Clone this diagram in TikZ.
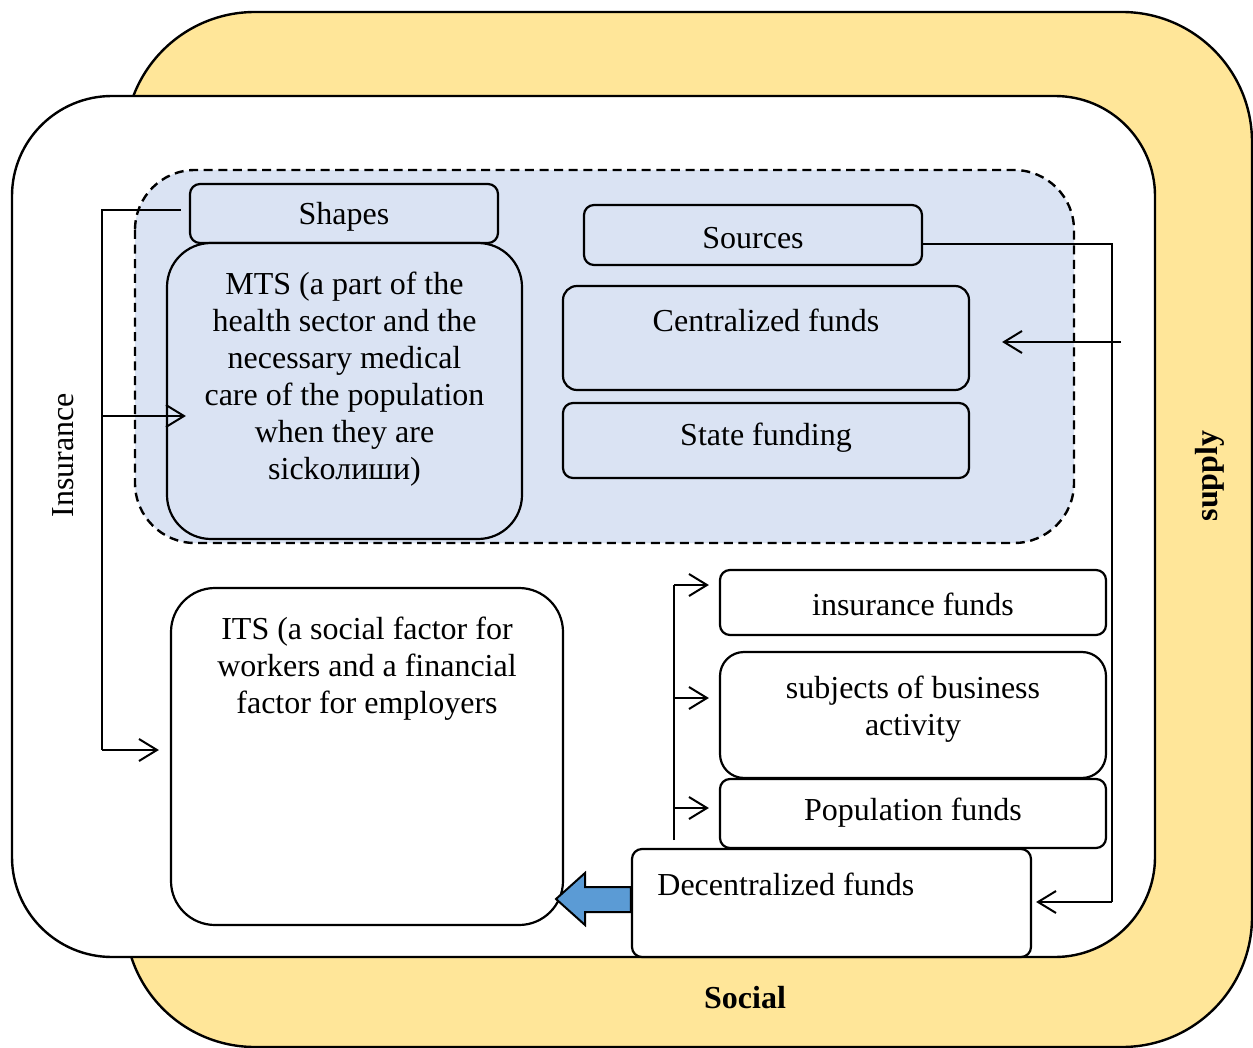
\documentclass[tikz,border=0pt]{standalone}
\usepackage{fontspec}
\setmainfont{Liberation Serif}
\usetikzlibrary{arrows.meta,calc}
\definecolor{yel}{HTML}{FFE699}
\definecolor{lblue}{HTML}{DAE3F3}
\definecolor{barrow}{HTML}{5B9BD5}
\begin{document}
\begin{tikzpicture}[x=0.5pt,y=-0.5pt,
  font=\fontsize{16}{18.5}\selectfont,
  box/.style={draw, line width=1.1pt, rounded corners=5pt, inner sep=0pt},
  txt/.style={align=center, inner sep=0pt},
  thinline/.style={line width=0.6pt},
  arr/.style={line width=1pt, -{Straight Barb[length=9pt,width=11pt]}}]
\clip (0,0) rectangle (1253,1048);
\useasboundingbox (0,0) rectangle (1253,1048);
% outer frames
\draw[fill=yel, line width=1.2pt, rounded corners=65pt] (125,12) rectangle (1252,1047);
\draw[fill=white, line width=1.2pt, rounded corners=50pt] (12,96) rectangle (1155,957);
\draw[fill=lblue, line width=1.2pt, dash pattern=on 4.5pt off 2.8pt, rounded corners=30pt] (135,170) rectangle (1074,543);
% boxes
\node[box, fill=lblue, minimum width=154pt, minimum height=29.5pt] (shapes) at (344,213.5) {};
\node[txt] (shapesT) at (344,217) {Shapes};
\node[box, fill=lblue, rounded corners=22pt, minimum width=177.5pt, minimum height=148pt] (mts) at (344.5,391) {};
\node[txt] (mtsT) at (344.5,379) {MTS (a part of the\\health sector and the\\necessary medical\\care of the population\\when they are\\sickолиши)};
\node[box, fill=lblue, minimum width=169pt, minimum height=30pt] (sources) at (753,235) {};
\node[txt] (sourcesT) at (753,238) {Sources};
\node[box, fill=lblue, rounded corners=7pt, minimum width=203pt, minimum height=52pt] (cent) at (766,338) {};
\node[txt] (centT) at (766,320) {Centralized funds};
\node[box, fill=lblue, minimum width=203pt, minimum height=37.5pt] (state) at (766,440.5) {};
\node[txt] (stateT) at (766,438) {State funding};
\node[box, fill=white, rounded corners=22pt, minimum width=196pt, minimum height=168.5pt] (its) at (367,756.5) {};
\node[txt] (itsT) at (367,669) {ITS (a social factor for\\workers and a financial\\factor for employers};
\node[box, fill=white, minimum width=193pt, minimum height=32.5pt] (insf) at (913,602.5) {};
\node[txt] (insfT) at (913,604) {insurance funds};
\node[box, fill=white, rounded corners=12pt, minimum width=193pt, minimum height=63pt] (subj) at (913,715) {};
\node[txt] (subjT) at (913,709) {subjects of business\\activity};
\node[box, fill=white, minimum width=193pt, minimum height=34.5pt] (pop) at (913,813.5) {};
\node[txt] (popT) at (913,813) {Population funds};
\node[box, fill=white, minimum width=199.5pt, minimum height=54pt] (dec) at (831.5,903) {};
\node[txt, anchor=west] (decT) at (657,884) {Decentralized funds};
% side labels
\node[txt, rotate=90] (insL) at (63,455) {Insurance};
\node[txt, rotate=90, font=\fontsize{16}{18.5}\selectfont\bfseries] (supL) at (1210,476) {supply};
\node[txt, font=\fontsize{16}{18.5}\selectfont\bfseries] (socL) at (745,998) {Social};
% left connectors
\coordinate (lTop) at (102,210);
\coordinate (lMid) at (102,416);
\coordinate (lBot) at (102,750);
\draw[thinline] ([xshift=-4pt]shapes.west |- lTop) -- (lTop) -- (lBot);
\draw[arr] (lMid) -- ($(mts.west |- lMid)+(10pt,0)$);
\draw[arr] (lBot) -- ($(its.west |- lBot)+(-5.5pt,0)$);
% right connectors
\coordinate (rTop) at (1112,244);
\coordinate (rBot) at (1112,902);
\coordinate (rMid) at (1121,342);
\draw[thinline] (sources.east |- rTop) -- (rTop) -- (rBot);
\draw[arr] (rBot) -- ($(dec.east |- rBot)+(2pt,0)$);
\draw[arr] (rMid) -- ($(cent.east |- rMid)+(16pt,0)$);
% bottom right connectors
\coordinate (bTop) at (674,585);
\coordinate (bMid) at (674,698);
\coordinate (bLow) at (674,808);
\coordinate (bBot) at (674,840);
\draw[thinline] (bBot) -- (bTop);
\draw[arr] (bTop) -- ($(insf.west |- bTop)+(-5pt,0)$);
\draw[arr] (bMid) -- ($(subj.west |- bMid)+(-5pt,0)$);
\draw[arr] (bLow) -- ($(pop.west |- bLow)+(-5pt,0)$);
% block arrow
\draw[fill=barrow, line width=1pt, line join=miter]
  (dec.west |- 0,887) -- (585,887) -- (585,873) -- (556,899) -- (585,925) -- (585,912) -- (dec.west |- 0,912) -- cycle;
\end{tikzpicture}
\end{document}
